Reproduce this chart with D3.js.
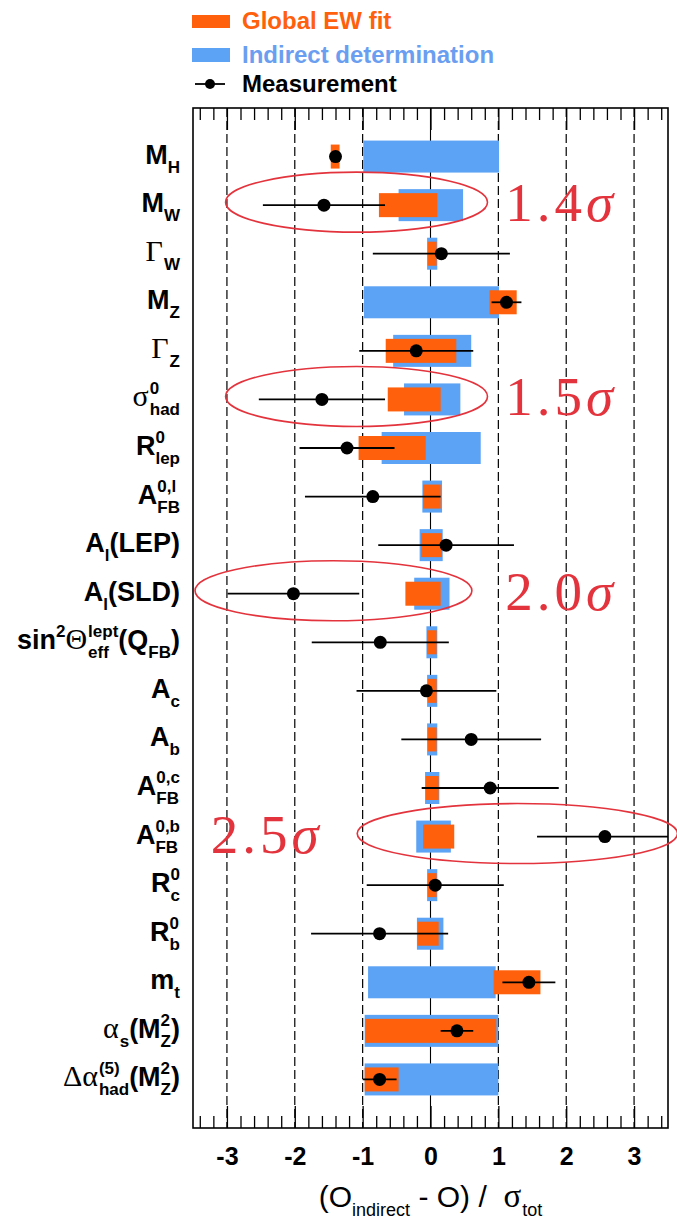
<!DOCTYPE html>
<html>
<head>
<meta charset="utf-8">
<script src="https://cdn.jsdelivr.net/npm/d3@7"></script>
<style>
  body { margin: 0; background: #fff; }
  svg { display: block; }
  text { white-space: pre; }
</style>
</head>
<body>
<script>
var W = 677, H = 1224;

// observables, top to bottom ( _{..} subscript, ^{..} superscript )
var observables = [
  "M_{H}", "M_{W}", "Γ_{W}", "M_{Z}", "Γ_{Z}", "σ^{0}_{had}", "R^{0}_{lep}",
  "A^{0,l}_{FB}", "A_{l}(LEP)", "A_{l}(SLD)", "sin^{2}Θ^{lept}_{eff}(Q_{FB})",
  "A_{c}", "A_{b}", "A^{0,c}_{FB}", "A^{0,b}_{FB}", "R^{0}_{c}", "R^{0}_{b}",
  "m_{t}", "α_{s}(M^{2}_{Z})", "Δα^{(5)}_{had}(M^{2}_{Z})"
];

// global EW fit band (orange)
var fitLo = [-1.47, -0.76, -0.04, 0.87, -0.66, -0.63, -1.06, -0.11, -0.14, -0.37,
             -0.05, -0.04, -0.04, -0.07, -0.11, -0.04, -0.19, 0.93, -0.96, -0.97];
var fitHi = [-1.34, 0.10, 0.09, 1.27, 0.38, 0.15, -0.07, 0.15, 0.17, 0.15,
             0.09, 0.09, 0.09, 0.12, 0.35, 0.09, 0.12, 1.62, 0.97, -0.47];

// indirect determination band (blue)
var indLo = [-0.99, -0.47, -0.05, -0.98, -0.55, -0.39, -0.72, -0.12, -0.16, -0.24,
             -0.06, -0.05, -0.05, -0.08, -0.21, -0.05, -0.20, -0.92, -0.97, -0.97];
var indHi = [1.01, 0.48, 0.10, 1.01, 0.60, 0.44, 0.74, 0.17, 0.18, 0.28,
             0.10, 0.10, 0.10, 0.13, 0.30, 0.10, 0.19, 0.96, 1.00, 1.00];

// measurement and its error
var meas    = [-1.40, -1.57, 0.16, 1.12, -0.21, -1.60, -1.23, -0.85, 0.23, -2.02,
               -0.74, -0.06, 0.60, 0.88, 2.57, 0.07, -0.75, 1.45, 0.39, -0.75];
var measErr = [0.05, 0.90, 1.01, 0.22, 0.84, 0.93, 0.70, 1.00, 1.00, 0.97,
               1.01, 1.03, 1.03, 1.01, 1.00, 1.01, 1.01, 0.39, 0.24, 0.25];

// tension annotations: row, text, ellipse span in axis units
var pullRows  = [1, 5, 9, 14];
var pullText  = ["1.4σ", "1.5σ", "2.0σ", "2.5σ"];
var pullSpanLo = [-3.02, -3.02, -3.47, -1.08];
var pullSpanHi = [0.84, 0.84, 0.61, 3.64];

var xTicks = [-3, -2, -1, 0, 1, 2, 3];

var ORANGE = "#ff600c", BLUE = "#5ca3f5", RED = "#e3343d";
var SANS = "'Liberation Sans', Arial, Helvetica, sans-serif";
var SERIF = "'Liberation Serif', 'Times New Roman', serif";

var L = 193, R = 668, T = 108, B = 1128;

var x = d3.scaleLinear().domain([-3.5, 3.5]).range([L, R]);
var y = d3.scalePoint().domain(d3.range(observables.length)).range([T, B]).padding(1);

var svg = d3.select("body").append("svg")
  .attr("width", W).attr("height", H);

// ---- rich text helper (sub/superscripts, greek in serif)
function parseRich(s) {
  var toks = [], buf = "", i = 0;
  while (i < s.length) {
    var c = s[i];
    if ((c === "_" || c === "^") && s[i + 1] === "{") {
      if (buf) { toks.push({ t: buf, m: "base" }); buf = ""; }
      var j = s.indexOf("}", i);
      toks.push({ t: s.slice(i + 2, j), m: c === "_" ? "sub" : "sup" });
      i = j + 1;
    } else { buf += c; i++; }
  }
  if (buf) toks.push({ t: buf, m: "base" });
  return toks;
}

function drawRich(g, s, o) {
  var toks = parseRich(s), cur = 0, scriptStart = null, prevEnd = 0, prevMode = null;
  toks.forEach(function (tk) {
    var size = tk.m === "base" ? o.size : o.scriptSize;
    var dy = tk.m === "sub" ? o.subDy : (tk.m === "sup" ? o.supDy : 0);
    var stacked = tk.m !== "base" && prevMode && prevMode !== "base" && prevMode !== tk.m;
    var start = stacked ? scriptStart : cur;
    var xx = start;
    // split into greek / latin runs
    var runs = tk.t.match(/[\u0370-\u03ff]+|[^\u0370-\u03ff]+/g);
    runs.forEach(function (r) {
      var greek = /[\u0370-\u03ff]/.test(r);
      var t = g.append("text")
        .attr("x", xx).attr("y", dy)
        .attr("font-family", greek ? SERIF : SANS)
        .attr("font-weight", greek ? "normal" : o.weight)
        .attr("font-size", greek ? size + 3 : size)
        .attr("fill", o.fill || "#000")
        .text(r);
      xx += t.node().getComputedTextLength() + (greek ? 1 : 0);
    });
    if (stacked) {
      cur = Math.max(prevEnd, xx);
    } else {
      if (tk.m !== "base") scriptStart = start;
      cur = xx;
    }
    prevEnd = xx;
    prevMode = tk.m;
  });
  var shift = o.anchor === "end" ? -cur : (o.anchor === "middle" ? -cur / 2 : 0);
  g.selectAll("text").attr("x", function () { return +d3.select(this).attr("x") + shift; });
}

// ---- grid
var grid = svg.append("g");
grid.selectAll("line.dash")
  .data(xTicks.filter(function (d) { return d !== 0; }))
  .enter().append("line")
  .attr("x1", function (d) { return x(d); }).attr("x2", function (d) { return x(d); })
  .attr("y1", T).attr("y2", B)
  .attr("stroke", "#000").attr("stroke-width", 1.2)
  .attr("stroke-dasharray", "9,4");
grid.append("line")
  .attr("x1", x(0)).attr("x2", x(0)).attr("y1", T).attr("y2", B)
  .attr("stroke", "#000").attr("stroke-width", 1.1);

// ---- bands
var rows = d3.range(observables.length);
svg.append("g").selectAll("rect")
  .data(rows).enter().append("rect")
  .attr("x", function (i) { return x(indLo[i]); })
  .attr("width", function (i) { return x(indHi[i]) - x(indLo[i]); })
  .attr("y", function (i) { return y(i) - 16; })
  .attr("height", 32)
  .attr("fill", BLUE);

svg.append("g").selectAll("rect")
  .data(rows).enter().append("rect")
  .attr("x", function (i) { return x(fitLo[i]); })
  .attr("width", function (i) { return x(fitHi[i]) - x(fitLo[i]); })
  .attr("y", function (i) { return y(i) - 12; })
  .attr("height", 24)
  .attr("fill", ORANGE);

// ---- measurements
svg.append("clipPath").attr("id", "plotclip")
  .append("rect").attr("x", L).attr("y", T).attr("width", R - L).attr("height", B - T);

var mg = svg.append("g").attr("clip-path", "url(#plotclip)");
mg.selectAll("line")
  .data(rows).enter().append("line")
  .attr("x1", function (i) { return x(meas[i] - measErr[i]); })
  .attr("x2", function (i) { return x(meas[i] + measErr[i]); })
  .attr("y1", function (i) { return y(i); })
  .attr("y2", function (i) { return y(i); })
  .attr("stroke", "#000").attr("stroke-width", 1.8);
mg.selectAll("circle")
  .data(rows).enter().append("circle")
  .attr("cx", function (i) { return x(meas[i]); })
  .attr("cy", function (i) { return y(i); })
  .attr("r", 6.5)
  .attr("fill", "#000");

// ---- frame and ticks
var minor = d3.range(-34, 35, 2).map(function (d) { return d / 10; })
  .filter(function (d) { return Math.abs(d - Math.round(d)) > 1e-6; });

function tickAxis(axisFn, yPos, vals, len) {
  svg.append("g").attr("transform", "translate(0," + yPos + ")")
    .call(axisFn(x).tickValues(vals).tickSize(-len).tickFormat(""))
    .call(function (g) {
      g.select(".domain").remove();
      g.selectAll("line").attr("stroke", "#000").attr("stroke-width", 1.3);
    });
}
tickAxis(d3.axisBottom, B, minor, 12);
tickAxis(d3.axisBottom, B, xTicks, 22);
tickAxis(d3.axisTop, T, minor, 12);
tickAxis(d3.axisTop, T, xTicks, 22);

svg.append("rect")
  .attr("x", L).attr("y", T).attr("width", R - L).attr("height", B - T)
  .attr("fill", "none").attr("stroke", "#000").attr("stroke-width", 1.6);

// tick labels
svg.append("g").attr("transform", "translate(0," + B + ")")
  .call(d3.axisBottom(x).tickValues(xTicks).tickSize(0).tickPadding(19)
    .tickFormat(function (d) { return d < 0 ? "-" + Math.abs(d) : String(d); }))
  .call(function (g) {
    g.select(".domain").remove();
    g.selectAll("text")
      .attr("font-family", SANS).attr("font-weight", "bold")
      .attr("font-size", 25).attr("fill", "#000");
  });

// axis title
drawRich(svg.append("g").attr("transform", "translate(" + x(0) + ",1207)"),
  "(O_{indirect} - O) /  σ_{tot}",
  { size: 30, scriptSize: 18, weight: "normal", anchor: "middle", subDy: 9, supDy: -12 });

// ---- row labels
rows.forEach(function (i) {
  drawRich(svg.append("g").attr("transform", "translate(180," + (y(i) + 7) + ")"),
    observables[i],
    { size: 27, scriptSize: 17, weight: "bold", anchor: "end", subDy: 9, supDy: -12 });
});

// ---- tension annotations
pullRows.forEach(function (r, k) {
  var lo = x(pullSpanLo[k]), hi = x(pullSpanHi[k]);
  svg.append("ellipse")
    .attr("cx", (lo + hi) / 2).attr("cy", y(r) - 3)
    .attr("rx", (hi - lo) / 2).attr("ry", 30)
    .attr("fill", "none").attr("stroke", RED).attr("stroke-width", 1.6);
  var onRight = (pullSpanLo[k] + pullSpanHi[k]) / 2 < 0;
  var t = svg.append("text")
    .attr("x", onRight ? x(1.1) : x(-3.24))
    .attr("y", y(r) + 16)
    .attr("font-family", SERIF).attr("font-size", 55)
    .attr("letter-spacing", 4)
    .attr("fill", RED);
  var s = pullText[k];
  t.append("tspan").text(s.slice(0, -1));
  t.append("tspan").attr("font-style", "italic").text(s.slice(-1));
});

// ---- legend
var leg = svg.append("g");
leg.append("rect").attr("x", 192).attr("y", 15).attr("width", 38).attr("height", 13).attr("fill", ORANGE);
leg.append("rect").attr("x", 192).attr("y", 48).attr("width", 38).attr("height", 14).attr("fill", BLUE);
leg.append("line").attr("x1", 195).attr("x2", 225).attr("y1", 84).attr("y2", 84)
  .attr("stroke", "#000").attr("stroke-width", 1.8);
leg.append("circle").attr("cx", 210).attr("cy", 84).attr("r", 5).attr("fill", "#000");

var legItems = [["Global EW fit", ORANGE, 29], ["Indirect determination", "#6a9ef0", 63], ["Measurement", "#000", 92]];
leg.selectAll("text").data(legItems).enter().append("text")
  .attr("x", 242).attr("y", function (d) { return d[2]; })
  .attr("font-family", SANS).attr("font-weight", "bold").attr("font-size", 24)
  .attr("fill", function (d) { return d[1]; })
  .text(function (d) { return d[0]; });
</script>
</body>
</html>
